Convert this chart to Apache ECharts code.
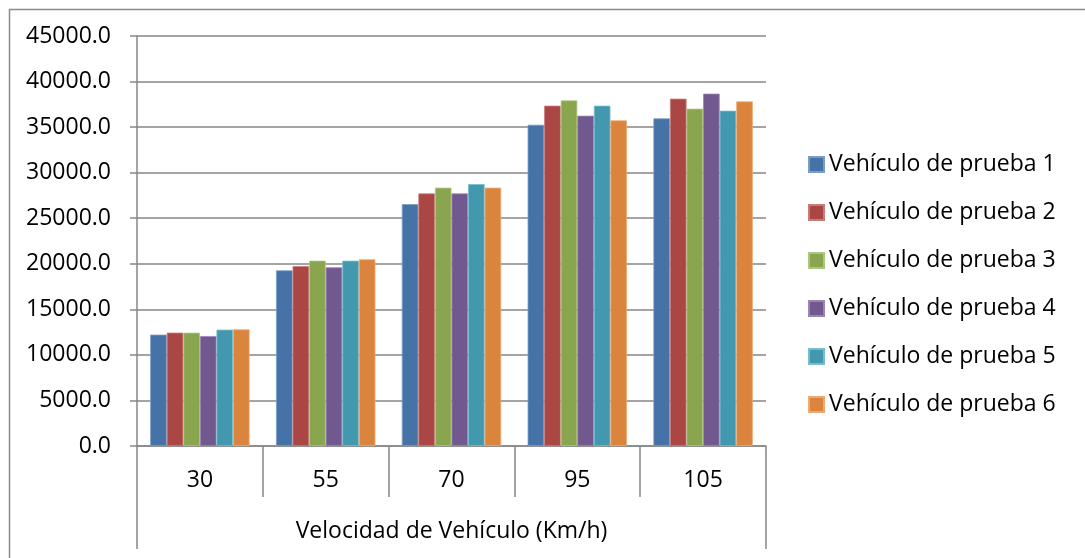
<!DOCTYPE html>
<html>
<head>
<meta charset="utf-8">
<script src="https://cdn.jsdelivr.net/npm/echarts@6/dist/echarts.min.js"></script>
<style>
  html, body { margin: 0; padding: 0; background: #fff; }
  #chart { width: 1085px; height: 558px; }
</style>
</head>
<body>
<div id="chart"></div>
<script>
// Speeds tested (km/h)
const speeds = ['30', '55', '70', '95', '105'];
const axisTitle = 'Velocidad de Vehículo (Km/h)';
const yTicks = { min: 0, max: 45000, step: 5000 };

// One series per test vehicle, one value per speed
const vehicle1 = [12220, 19280, 26550, 35260, 35960];
const vehicle2 = [12440, 19750, 27720, 37350, 38120];
const vehicle3 = [12440, 20340, 28350, 37930, 37020];
const vehicle4 = [12070, 19610, 27720, 36250, 38670];
const vehicle5 = [12770, 20340, 28750, 37350, 36800];
const vehicle6 = [12800, 20490, 28350, 35740, 37820];

const seriesNames = [
  'Vehículo de prueba 1', 'Vehículo de prueba 2', 'Vehículo de prueba 3',
  'Vehículo de prueba 4', 'Vehículo de prueba 5', 'Vehículo de prueba 6'
];
const seriesValues = [vehicle1, vehicle2, vehicle3, vehicle4, vehicle5, vehicle6];
const colors = ['#4572A7', '#AA4643', '#89A54E', '#71588F', '#4198AF', '#DB843D'];
const edgeColors = ['#7c9cc6', '#c87b78', '#aec583', '#9a86b3', '#79bccd', '#eeaa74'];

const FONT = '"Open Sans", "Noto Sans", sans-serif';
const GRAY = '#868686';

const chart = echarts.init(document.getElementById('chart'), null, { renderer: 'canvas' });

chart.setOption({
  animation: false,
  backgroundColor: '#ffffff',
  textStyle: { fontFamily: FONT, color: '#000' },
  graphic: [{
    // outer chart frame (top and left edges visible)
    type: 'rect',
    left: 7, top: 7,
    shape: { width: 1200, height: 700 },
    style: { fill: 'none', stroke: '#8c8c8c', lineWidth: 1.5 },
    silent: true,
    z: -1
  }],
  grid: { left: 137, right: 319, top: 36, bottom: 112, containLabel: false },
  legend: {
    orient: 'vertical',
    left: 808,
    top: 153,
    padding: 0,
    itemWidth: 15,
    itemHeight: 15,
    itemGap: 25,
    icon: 'rect',
    textStyle: { fontFamily: FONT, fontSize: 23, color: '#000' },
    data: seriesNames
  },
  xAxis: [{
    // speed categories, with separators between groups
    type: 'category',
    data: speeds,
    position: 'bottom',
    axisLine: { show: true, lineStyle: { color: GRAY, width: 1.5 } },
    axisTick: { show: true, length: 51, lineStyle: { color: GRAY, width: 1.5 } },
    axisLabel: { fontFamily: FONT, fontSize: 23, color: '#000', margin: 23 },
    splitLine: { show: false }
  }, {
    // outer level of the category axis, spanning all groups
    type: 'category',
    data: [axisTitle],
    position: 'bottom',
    axisLine: { show: false },
    axisTick: { show: true, length: 103, lineStyle: { color: GRAY, width: 1.5 } },
    axisLabel: { fontFamily: FONT, fontSize: 23, color: '#000', margin: 74 },
    splitLine: { show: false }
  }],
  yAxis: {
    type: 'value',
    min: yTicks.min,
    max: yTicks.max,
    interval: yTicks.step,
    axisLine: { show: true, lineStyle: { color: GRAY, width: 1.5 } },
    axisTick: { show: true, length: 7, lineStyle: { color: GRAY, width: 1.5 } },
    axisLabel: {
      fontFamily: FONT, fontSize: 23, color: '#000', margin: 26,
      formatter: v => v.toFixed(1)
    },
    splitLine: { show: true, lineStyle: { color: GRAY, width: 1.5 } }
  },
  series: seriesNames.map((name, i) => ({
    name,
    type: 'bar',
    xAxisIndex: 0,
    data: seriesValues[i],
    barGap: '0%',
    barCategoryGap: '21%',
    itemStyle: { color: colors[i], borderColor: edgeColors[i], borderWidth: 0.8 }
  }))
});
</script>
</body>
</html>
